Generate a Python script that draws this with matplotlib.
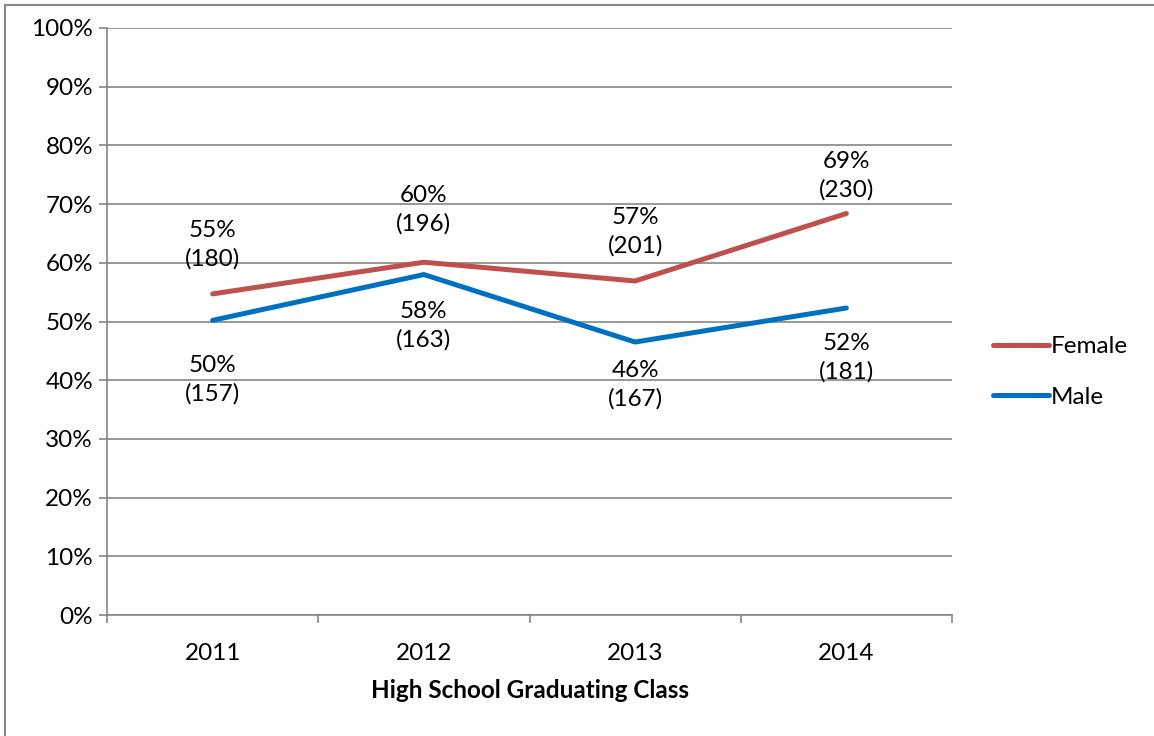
import numpy as np
import matplotlib.pyplot as plt
from matplotlib.lines import Line2D

plt.rcParams['font.family'] = ['Lato', 'DejaVu Sans']

years = ['2011', '2012', '2013', '2014']
female_pct = [54.7, 60.1, 56.9, 68.4]
male_pct = [50.2, 58.0, 46.5, 52.3]
female_labels = ['55%\n(180)', '60%\n(196)', '57%\n(201)', '69%\n(230)']
male_labels = ['50%\n(157)', '58%\n(163)', '46%\n(167)', '52%\n(181)']

red = '#C0504D'
blue = '#0070C0'
grid_col = '#868686'
fs = 17.5

fig = plt.figure(figsize=(11.54, 7.36), dpi=100)
ax = fig.add_axes([107 / 1154, 1 - 615 / 736, (952 - 107) / 1154, (615 - 28) / 736])

x = np.arange(len(years))
ax.plot(x, female_pct, color=red, lw=3.6, solid_capstyle='round', zorder=3)
ax.plot(x, male_pct, color=blue, lw=3.6, solid_capstyle='round', zorder=3)

# label offsets (pixels -> points)
f_off = [-49, -52, -49, -38]
m_off = [59, 51, 43, 50]
for i in range(len(years)):
    ax.annotate(female_labels[i], (x[i], female_pct[i]), xytext=(0, -f_off[i] * 0.72),
                textcoords='offset points', ha='center', va='center',
                fontsize=fs, linespacing=1.4, zorder=4)
    ax.annotate(male_labels[i], (x[i], male_pct[i]), xytext=(0, -m_off[i] * 0.72),
                textcoords='offset points', ha='center', va='center',
                fontsize=fs, linespacing=1.4, zorder=4)

ax.set_xlim(-0.5, 3.5)
ax.set_ylim(0, 100)
ax.set_yticks(np.arange(0, 101, 10))
ax.set_yticklabels([f'{v}%' for v in range(0, 101, 10)], fontsize=fs)
ax.yaxis.grid(True, color=grid_col, lw=1.2)
ax.set_axisbelow(True)

ax.set_xticks(np.arange(-0.5, 3.6, 1))
ax.set_xticklabels([])
ax.set_xticks(x, minor=True)
ax.set_xticklabels(years, minor=True, fontsize=fs)
ax.tick_params(axis='x', which='minor', length=0, pad=20)
ax.tick_params(axis='x', which='major', length=6, color=grid_col, width=1.2)
ax.tick_params(axis='y', length=6, color=grid_col, width=1.2, pad=4)

for s in ['top', 'right']:
    ax.spines[s].set_visible(False)
for s in ['left', 'bottom']:
    ax.spines[s].set_color(grid_col)
    ax.spines[s].set_linewidth(1.2)

fig.text(530 / 1154, 1 - 690 / 736, 'High School Graduating Class',
         ha='center', va='center', fontsize=fs, fontweight='bold')

handles = [Line2D([], [], color=red, lw=3.6, solid_capstyle='round'),
           Line2D([], [], color=blue, lw=3.6, solid_capstyle='round')]
fig.legend(handles, ['Female', 'Male'], loc='center left',
           bbox_to_anchor=(971 / 1154, 1 - 372 / 736), frameon=False,
           fontsize=fs, handlelength=2.3, handletextpad=0.1, labelspacing=1.2)

# outer chart border
fig.add_artist(Line2D([5 / 1154, 5 / 1154], [0, 1 - 5 / 736], color=grid_col, lw=1.5))
fig.add_artist(Line2D([5 / 1154, 1], [1 - 5 / 736, 1 - 5 / 736], color=grid_col, lw=1.5))

fig.savefig('out.png', dpi=100)
